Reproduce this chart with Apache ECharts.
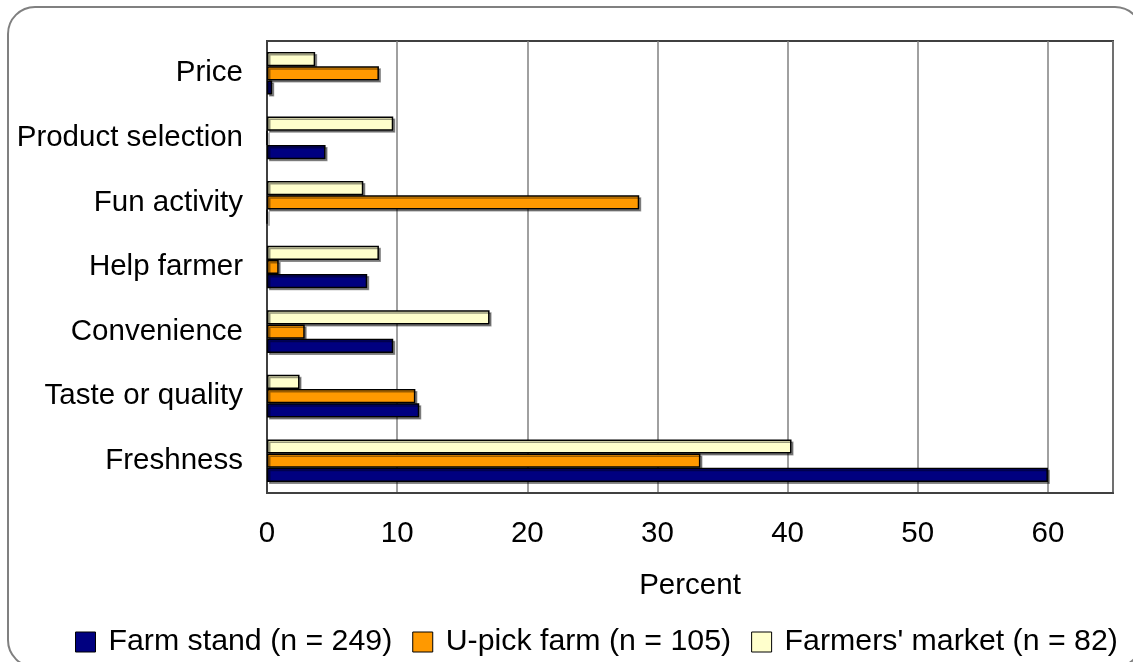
<!DOCTYPE html>
<html>
<head>
<meta charset="utf-8">
<script src="https://cdn.jsdelivr.net/npm/echarts@6/dist/echarts.min.js"></script>
<style>
html,body{margin:0;padding:0;background:#fff;}
#chart{width:1133px;height:662px;}
</style>
</head>
<body>
<div id="chart"></div>
<script>
// Categories listed bottom to top
var categories = ['Freshness', 'Taste or quality', 'Convenience', 'Help farmer', 'Fun activity', 'Product selection', 'Price'];
var seriesNames = ['Farm stand (n = 249)', 'U-pick farm (n = 105)', "Farmers' market (n = 82)"];
var farmStand = [60.0, 11.7, 9.7, 7.7, 0, 4.5, 0.4];
var uPick = [33.3, 11.4, 2.9, 0.9, 28.6, 0, 8.6];
var farmersMarket = [40.3, 2.5, 17.1, 8.6, 7.4, 9.7, 3.7];
var xTicks = { min: 0, max: 65, interval: 10 };
var axisName = 'Percent';

var colors = ['#000080', '#FF9900', '#FFFFCC'];
var font = '"Liberation Sans", Arial, sans-serif';

var chart = echarts.init(document.getElementById('chart'));

function barSeries(name, data, color) {
  return {
    name: name,
    type: 'bar',
    data: data,
    barGap: '0%',
    barCategoryGap: '34%',
    itemStyle: {
      color: color,
      borderColor: '#000',
      borderWidth: 1.5,
      shadowColor: 'rgba(0,0,0,0.4)',
      shadowOffsetX: 2,
      shadowOffsetY: 2,
      shadowBlur: 0
    },
    emphasis: { disabled: true },
    animation: false
  };
}

chart.setOption({
  animation: false,
  graphic: [{
    type: 'rect',
    shape: { x: 8, y: 7, width: 1134, height: 660, r: 27 },
    style: { fill: 'none', stroke: '#808080', lineWidth: 2 },
    z: -1
  }],
  grid: {
    left: 267, right: 20, top: 41, bottom: 169,
    show: true,
    borderColor: '#404040',
    borderWidth: 2,
    backgroundColor: 'transparent'
  },
  legend: {
    left: 70,
    top: 622,
    itemWidth: 20,
    itemHeight: 20,
    itemGap: 20,
    icon: 'rect',
    selectedMode: false,
    itemStyle: { borderColor: '#000', borderWidth: 1, shadowColor: 'transparent', shadowOffsetX: 0, shadowOffsetY: 0 },
    textStyle: { fontFamily: font, fontSize: 30.3, color: '#000', padding: [0, 0, 0, 8] },
    data: seriesNames
  },
  xAxis: {
    type: 'value',
    min: xTicks.min,
    max: xTicks.max,
    interval: xTicks.interval,
    name: axisName,
    nameLocation: 'middle',
    nameGap: 78,
    nameTextStyle: { fontFamily: font, fontSize: 29.5, color: '#000' },
    axisLine: { show: true, lineStyle: { color: '#404040', width: 2 } },
    axisTick: { show: false },
    axisLabel: { fontFamily: font, fontSize: 29.5, color: '#000', margin: 26, showMaxLabel: false },
    splitLine: { show: true, lineStyle: { color: '#808080', width: 1.5 } }
  },
  yAxis: {
    type: 'category',
    data: categories,
    axisLine: { show: true, lineStyle: { color: '#404040', width: 2 } },
    axisTick: { show: false },
    axisLabel: { fontFamily: font, fontSize: 29.5, color: '#000', margin: 24 },
    splitLine: { show: false }
  },
  // Series drawn top-of-group first so Farm stand sits at the bottom of each group
  series: [
    barSeries(seriesNames[2], farmersMarket, colors[2]),
    barSeries(seriesNames[1], uPick, colors[1]),
    barSeries(seriesNames[0], farmStand, colors[0])
  ]
});
</script>
</body>
</html>
